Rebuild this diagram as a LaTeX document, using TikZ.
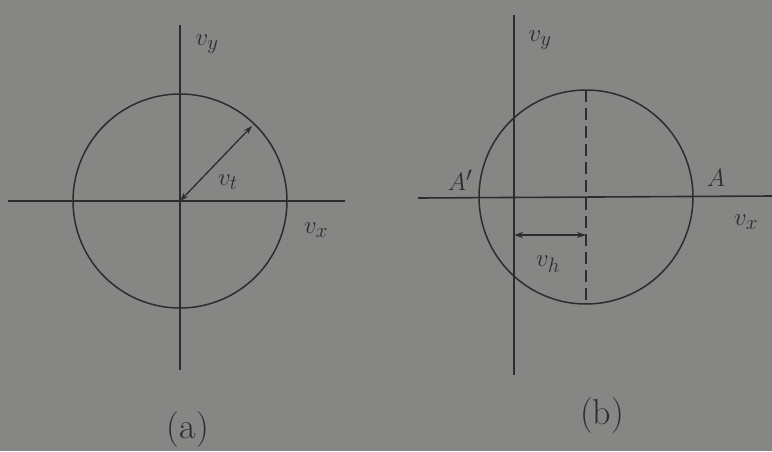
\documentclass[tikz,border=0pt]{standalone}
\usetikzlibrary{arrows.meta}
\definecolor{paper}{RGB}{134,134,132}
\definecolor{ink}{RGB}{45,45,45}
\begin{document}
\begin{tikzpicture}[x=1pt,y=-1pt,
  axis/.style={draw=ink,line width=1.6pt},
  ring/.style={draw=ink,line width=1.5pt},
  vec/.style={draw=ink,line width=1.3pt,{Stealth[length=9pt,width=6pt]}-{Stealth[length=9pt,width=6pt]}},
  lab/.style={text=ink,font=\fontsize{31}{33}\selectfont,inner sep=0pt},
  figcaption/.style={text=ink,font=\fontsize{36}{38}\selectfont,inner sep=0pt}]
\fill[paper] (0,0) rectangle (772,451);
\useasboundingbox (0,0) rectangle (772,451);
% ---------- (a)
\coordinate (aT) at (180,25);
\coordinate (aB) at (180,370);
\coordinate (aL) at (8,201);
\coordinate (aR) at (345,201);
\coordinate (aO) at (180,201);
\coordinate (aP) at (252,126);
\draw[axis] (aT) -- (aB);
\draw[axis] (aL) -- (aR);
\draw[ring] (aO) circle (107);
\draw[vec] (aO) -- (aP);
\node[lab] (avy) at (207,44) {$v_y$};
\node[lab] (avx) at (316,230) {$v_x$};
\node[lab] (avt) at (228,182) {$v_t$};
\node[figcaption] (acap) at (188,430) {(a)};
% ---------- (b)
\coordinate (bT) at (514,15);
\coordinate (bB) at (514,375);
\coordinate (bL) at (418,198);
\coordinate (bR) at (772,196);
\coordinate (bO) at (586,197);
\coordinate (bTop) at (586,90);
\coordinate (bBot) at (586,304);
\coordinate (bS1) at (514,235);
\coordinate (bS2) at (586,235);
\draw[axis] (bT) -- (bB);
\draw[axis] (bL) -- (bR);
\draw[ring] (bO) circle (107);
\draw[draw=ink,line width=1.4pt,dash pattern=on 12pt off 6pt] (bTop) -- (bBot);
\draw[vec] (bS1) -- (bS2);
\node[lab] (bvy) at (540,40) {$v_y$};
\node[lab] (bvx) at (746,222) {$v_x$};
\node[lab] (bvh) at (548,264) {$v_h$};
\node[lab] (bA1) at (460,180) {$A'$};
\node[lab] (bA) at (716,178) {$A$};
\node[figcaption] (bcap) at (602,416) {(b)};
\end{tikzpicture}
\end{document}
